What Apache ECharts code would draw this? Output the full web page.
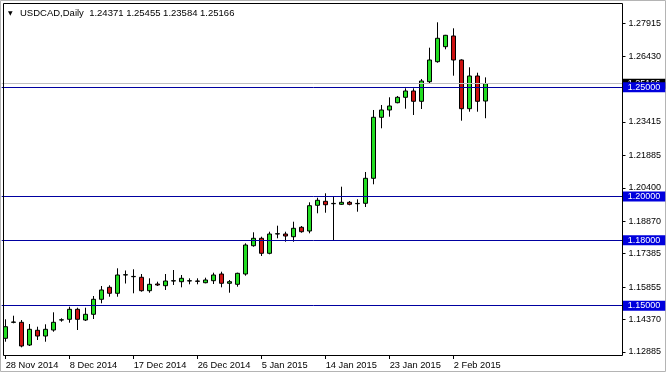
<!DOCTYPE html>
<html>
<head>
<meta charset="utf-8">
<title>USDCAD, Daily</title>
<script src="https://cdn.jsdelivr.net/npm/echarts@6.0.0/dist/echarts.min.js"></script>
<style>
  html, body { margin: 0; padding: 0; background: #fff; }
  #chart { width: 667px; height: 376px; }
</style>
</head>
<body>
<div id="chart"></div>
<script>
// bars as they are on the chart (the broker has Sunday bars)
const dates = [
  '28 Nov 2014', '30 Nov 2014', '1 Dec 2014', '2 Dec 2014', '3 Dec 2014', '4 Dec 2014', '5 Dec 2014',
  '7 Dec 2014', '8 Dec 2014', '9 Dec 2014', '10 Dec 2014', '11 Dec 2014', '12 Dec 2014',
  '14 Dec 2014', '15 Dec 2014', '16 Dec 2014', '17 Dec 2014', '18 Dec 2014', '19 Dec 2014',
  '21 Dec 2014', '22 Dec 2014', '23 Dec 2014', '24 Dec 2014', '25 Dec 2014', '26 Dec 2014',
  '28 Dec 2014', '29 Dec 2014', '30 Dec 2014', '31 Dec 2014', '1 Jan 2015', '2 Jan 2015',
  '4 Jan 2015', '5 Jan 2015', '6 Jan 2015', '7 Jan 2015', '8 Jan 2015', '9 Jan 2015',
  '11 Jan 2015', '12 Jan 2015', '13 Jan 2015', '14 Jan 2015', '15 Jan 2015', '16 Jan 2015',
  '18 Jan 2015', '19 Jan 2015', '20 Jan 2015', '21 Jan 2015', '22 Jan 2015', '23 Jan 2015',
  '25 Jan 2015', '26 Jan 2015', '27 Jan 2015', '28 Jan 2015', '29 Jan 2015', '30 Jan 2015',
  '1 Feb 2015', '2 Feb 2015', '3 Feb 2015', '4 Feb 2015', '5 Feb 2015', '6 Feb 2015'
];
const opens = [
  1.13507, 1.14240, 1.14240, 1.13200, 1.13874, 1.13612, 1.13887, 1.14345, 1.14377, 1.14835,
  1.14345, 1.14606, 1.15293, 1.15842, 1.15568, 1.16406, 1.16328, 1.16300, 1.15687, 1.15994,
  1.15916, 1.16131, 1.16099, 1.16131, 1.16131, 1.16053, 1.16145, 1.16451, 1.16026, 1.15980,
  1.16451, 1.17747, 1.18086, 1.17399, 1.18283, 1.18283, 1.18159, 1.18590, 1.18420, 1.19597,
  1.19780, 1.19670, 1.19643, 1.19734, 1.19670, 1.19689, 1.20833, 1.23626, 1.23961, 1.24295,
  1.24542, 1.24831, 1.24359, 1.25256, 1.26172, 1.26859, 1.27349, 1.26250, 1.24020, 1.25517,
  1.24371
];
const closes = [
  1.14038, 1.14253, 1.13155, 1.13919, 1.13612, 1.13919, 1.14240, 1.14354, 1.14835, 1.14377,
  1.14606, 1.15293, 1.15719, 1.15568, 1.16406, 1.16419, 1.16341, 1.15687, 1.15980, 1.15948,
  1.16131, 1.16145, 1.16254, 1.16145, 1.16117, 1.16177, 1.16406, 1.16026, 1.16099, 1.16483,
  1.17779, 1.18086, 1.17399, 1.18283, 1.18297, 1.18191, 1.18544, 1.18388, 1.19579, 1.19826,
  1.19624, 1.19684, 1.19734, 1.19643, 1.19684, 1.20833, 1.23626, 1.23961, 1.24144, 1.24542,
  1.24831, 1.24359, 1.25288, 1.26250, 1.27244, 1.27381, 1.26250, 1.24020, 1.25517, 1.24359,
  1.25166
];
const lows = [
  1.13351, 1.14194, 1.13095, 1.13155, 1.13429, 1.13351, 1.13809, 1.14267, 1.14221, 1.13887,
  1.14299, 1.14391, 1.15110, 1.15412, 1.15412, 1.16016, 1.15568, 1.15641, 1.15595, 1.15902,
  1.15719, 1.15948, 1.15842, 1.15980, 1.15980, 1.16026, 1.15994, 1.15842, 1.15595, 1.15870,
  1.16374, 1.17701, 1.17276, 1.17353, 1.18086, 1.17930, 1.17930, 1.18342, 1.18315, 1.19231,
  1.19258, 1.17976, 1.19611, 1.19597, 1.19304, 1.19519, 1.20559, 1.23123, 1.23654, 1.24267,
  1.24020, 1.23732, 1.24006, 1.25151, 1.26126, 1.26740, 1.25531, 1.23471, 1.23883, 1.23883,
  1.23584
];
const highs = [
  1.14377, 1.14542, 1.14345, 1.14162, 1.14038, 1.14148, 1.14698, 1.14423, 1.14954, 1.14908,
  1.14908, 1.15444, 1.15902, 1.15934, 1.16712, 1.16612, 1.16667, 1.16451, 1.16254, 1.16099,
  1.16451, 1.16634, 1.16406, 1.16254, 1.16254, 1.16282, 1.16511, 1.16557, 1.16177, 1.16511,
  1.17857, 1.18361, 1.18159, 1.18388, 1.18663, 1.18388, 1.18846, 1.18649, 1.19734, 1.19945,
  1.20146, 1.19991, 1.20449, 1.19794, 1.19872, 1.21122, 1.23961, 1.24190, 1.24542, 1.24602,
  1.24954, 1.24954, 1.25380, 1.26813, 1.27976, 1.27400, 1.27701, 1.26282, 1.25916, 1.25668,
  1.25455
];
// price scale labels and the horizontal lines drawn on the chart
const priceTicks = [1.12885, 1.14370, 1.15855, 1.17385, 1.18870, 1.20400, 1.21885, 1.23415, 1.26430, 1.27915];
const levels = [1.25, 1.20, 1.18, 1.15];

const FONT = 'Liberation Sans';
const slots = 78; // chart shift: empty space right of the last bar
const categories = dates.concat(new Array(slots - dates.length).fill(''));
const candles = dates.map((d, i) => [opens[i], closes[i], lows[i], highs[i]]);
const last = dates.length - 1;
const ohlc = [opens[last], highs[last], lows[last], closes[last]].map(v => v.toFixed(5)).join(' ');
const everyEighth = (i, v) => i % 8 === 0 && v !== '';

const lineLabel = {
  position: 'end', distance: -3, color: '#fff', fontFamily: FONT, fontSize: 9,
  padding: [1, 5, 0, 5], lineHeight: 9,
  formatter: p => p.value.toFixed(5)
};

const chart = echarts.init(document.getElementById('chart'));
chart.setOption({
  animation: false,
  backgroundColor: '#fff',
  title: {
    left: 8,
    top: 8,
    padding: 0,
    text: '{tri|▼}USDCAD,Daily  ' + ohlc,
    textStyle: {
      fontFamily: FONT, fontSize: 9.5, fontWeight: 'normal', color: '#000',
      rich: { tri: { fontFamily: 'DejaVu Sans', fontSize: 6, width: 12, color: '#000' } }
    }
  },
  grid: { left: 1.7, right: 41.3, top: 4, bottom: 20 },
  xAxis: {
    type: 'category',
    data: categories,
    boundaryGap: true,
    axisLine: { show: false },
    axisTick: { show: true, alignWithLabel: true, interval: everyEighth, length: 3, lineStyle: { color: '#000' } },
    axisLabel: { interval: everyEighth, align: 'left', margin: 5, color: '#000', fontFamily: FONT, fontSize: 9.3 },
    splitLine: { show: false }
  },
  yAxis: {
    type: 'value',
    position: 'right',
    offset: -3.2,
    min: 1.12697,
    max: 1.28814,
    splitLine: { show: false },
    axisLine: { show: false },
    axisTick: { show: true, length: 3, customValues: priceTicks, lineStyle: { color: '#000' } },
    axisLabel: { customValues: priceTicks, formatter: v => v.toFixed(5), margin: 6, color: '#000', fontFamily: FONT, fontSize: 9 }
  },
  series: [
    {
      // current bid line, under the level lines
      type: 'line',
      data: [],
      z: 1,
      markLine: {
        symbol: 'none',
        silent: true,
        precision: 5,
        label: lineLabel,
        lineStyle: { color: '#c0c0c0', type: 'solid', width: 1 },
        data: [{ yAxis: closes[last], label: { backgroundColor: '#000' } }]
      }
    },
    {
      type: 'candlestick',
      data: candles,
      z: 3,
      barWidth: 5,
      itemStyle: {
        color: '#22dd22', color0: '#cc1111',
        borderColor: '#000', borderColor0: '#000', borderColorDoji: '#000', borderWidth: 1
      },
      markLine: {
        symbol: 'none',
        silent: true,
        precision: 5,
        label: lineLabel,
        lineStyle: { color: '#0000a0', type: 'solid', width: 1 },
        data: levels.map(v => ({ yAxis: v, label: { backgroundColor: '#0000dd' } }))
      }
    }
  ],
  graphic: [
    { type: 'rect', silent: true, z: 100, shape: { x: 3.5, y: 3.5, width: 619, height: 352 }, style: { fill: null, stroke: '#000', lineWidth: 1 } },
    { type: 'rect', silent: true, shape: { x: 0.5, y: 0.5, width: 665, height: 371 }, style: { fill: null, stroke: '#b4b4b4', lineWidth: 1 } }
  ]
});
</script>
</body>
</html>
